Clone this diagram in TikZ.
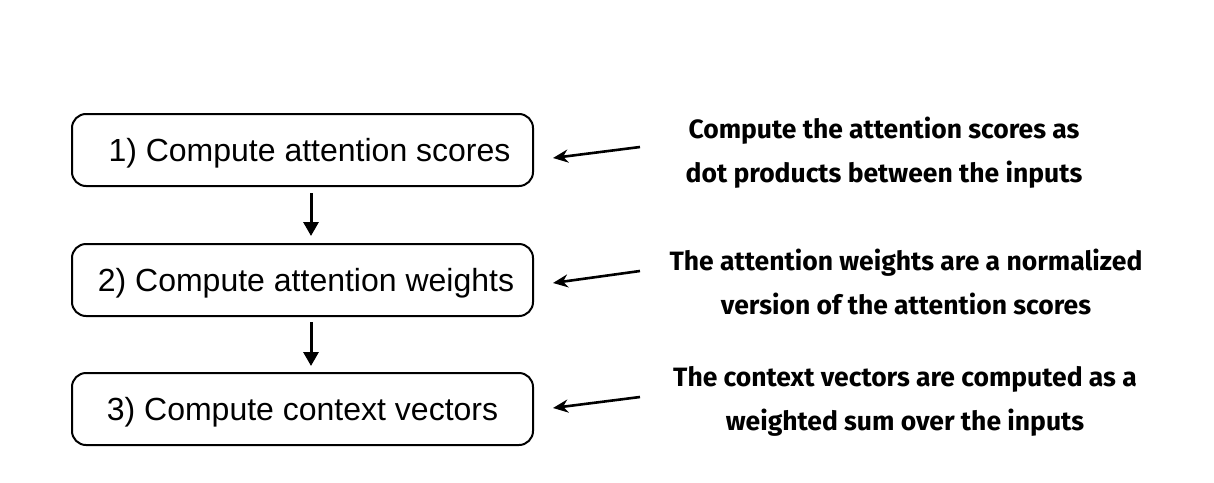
\documentclass[tikz,border=0pt]{standalone}
\usepackage{fontspec}
\setmainfont{Liberation Sans}
\newfontfamily\notefont{Fira Sans}
\usetikzlibrary{arrows.meta}
\newcommand{\lowertext}[1]{\raisebox{-3pt}[\height][\depth]{#1}}
\tikzset{
  stepbox/.style={draw=black, line width=2pt, rounded corners=14pt, minimum width=461pt, minimum height=72pt, inner sep=0pt, font=\fontsize{32}{38}\selectfont},
  downarrow/.style={-{Triangle[length=14pt,width=15pt]}, line width=3pt},
  notearrow/.style={-{Stealth[length=15pt,width=13pt]}, line width=2.6pt},
  note/.style={align=center, font=\notefont\bfseries\fontsize{26.5}{44}\selectfont, inner sep=0pt}
}
\begin{document}
\begin{tikzpicture}[x=1pt,y=-1pt]
\useasboundingbox (0,0) rectangle (1214,482);
\node[stepbox] (b1) at (302.5,150) {\lowertext{\hspace*{14pt}1) Compute attention scores}};
\node[stepbox] (b2) at (302.5,280) {\lowertext{\hspace*{7pt}2) Compute attention weights}};
\node[stepbox] (b3) at (302.5,409) {\lowertext{3) Compute context vectors}};
\coordinate (a1s) at (311,193);
\coordinate (a1e) at (311,236);
\coordinate (a2s) at (311,322);
\coordinate (a2e) at (311,366);
\draw[downarrow] (a1s) -- (a1e);
\draw[downarrow] (a2s) -- (a2e);
\node[note] (n1) at (884,153) {Compute the attention scores as\\dot products between the inputs};
\node[note] (n2) at (906,282) {The attention weights are a normalized\\version of the attention scores};
\node[note] (n3) at (905,401) {The context vectors are computed as a\\weighted sum over the inputs};
\coordinate (t1) at (640,147);
\coordinate (h1) at (553,158);
\coordinate (t2) at (640,271);
\coordinate (h2) at (553,283);
\coordinate (t3) at (640,397);
\coordinate (h3) at (553,408);
\draw[notearrow] (t1) -- (h1);
\draw[notearrow] (t2) -- (h2);
\draw[notearrow] (t3) -- (h3);
\end{tikzpicture}
\end{document}
